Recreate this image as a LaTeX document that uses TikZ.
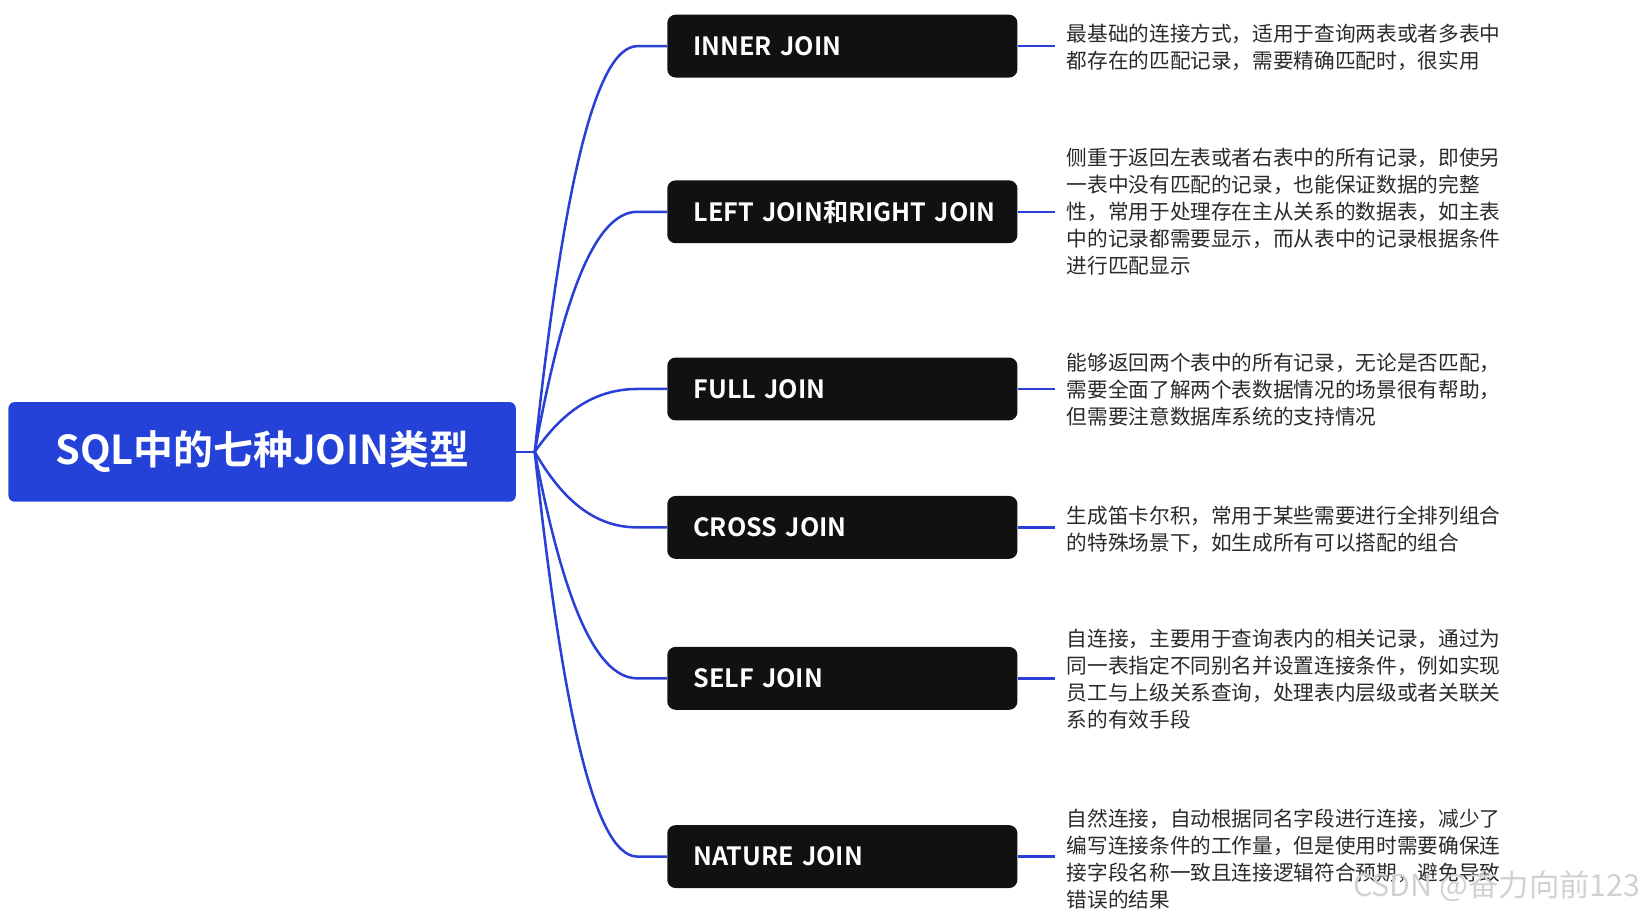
\documentclass[tikz,border=0pt]{standalone}
\usepackage{fontspec}
\setmainfont{Noto Sans CJK SC}[BoldFont={Noto Sans CJK SC Bold}]
\begin{document}
\begin{tikzpicture}[x=0.5pt,y=-0.5pt,
  child/.style={fill=boxblack,rounded corners=4pt,minimum width=167pt,minimum height=30pt,anchor=west,text=white,font=\bfseries\fontsize{12}{14}\selectfont,inner sep=0pt,text width=142pt,align=left},
  desc/.style={anchor=west,text=txt,font=\fontsize{9.85}{12.85}\selectfont,align=left,inner sep=0pt},
  link/.style={draw=linkblue,line width=1.2pt}]
\definecolor{boxblack}{HTML}{111111}
\definecolor{linkblue}{HTML}{2A3FD6}
\definecolor{rootblue}{HTML}{2441D8}
\definecolor{txt}{HTML}{2A2A2A}
\useasboundingbox (0,0) rectangle (1568,870);
\node[fill=rootblue,rounded corners=3pt,minimum width=242pt,minimum height=47.5pt,text=white,font=\bfseries\fontsize{19}{22}\selectfont,inner sep=0pt] (root) at (250,431) {SQL中的七种JOIN类型};
\coordinate (hub) at (510,431);
\draw[link] (root.east) -- (hub);
\foreach \n/\y/\t in {a/44/INNER JOIN, b/202/LEFT JOIN和RIGHT JOIN, c/371/FULL JOIN, d/503/CROSS JOIN, e/647/SELF JOIN, f/817/NATURE JOIN}{
  \node[child] (\n) at (636,\y) {\makebox[142pt][l]{\t}};
  \coordinate (\n j) at (608,\y);
  \coordinate (\n r) at (1006,\y);
  \draw[link] (hub) .. controls (535,{431+0.6*(\y-431)}) and (565,\y) .. (\n j) -- (\n.west);
  \draw[link] (\n.east) -- (\n r);
}
\node[desc] (ta) at (1017,45) {最基础的连接方式，适用于查询两表或者多表中\\都存在的匹配记录，需要精确匹配时，很实用};
\node[desc] (tb) at (1017,202) {侧重于返回左表或者右表中的所有记录，即使另\\一表中没有匹配的记录，也能保证数据的完整\\性，常用于处理存在主从关系的数据表，如主表\\中的记录都需要显示，而从表中的记录根据条件\\进行匹配显示};
\node[desc] (tc) at (1017,372) {能够返回两个表中的所有记录，无论是否匹配，\\需要全面了解两个表数据情况的场景很有帮助，\\但需要注意数据库系统的支持情况};
\node[desc] (td) at (1017,505) {生成笛卡尔积，常用于某些需要进行全排列组合\\的特殊场景下，如生成所有可以搭配的组合};
\node[desc] (te) at (1017,648) {自连接，主要用于查询表内的相关记录，通过为\\同一表指定不同别名并设置连接条件，例如实现\\员工与上级关系查询，处理表内层级或者关联关\\系的有效手段};
\node[desc] (tf) at (1017,819) {自然连接，自动根据同名字段进行连接，减少了\\编写连接条件的工作量，但是使用时需要确保连\\接字段名称一致且连接逻辑符合预期，避免导致\\错误的结果};
\node[anchor=east,text=black!18,font=\fontsize{14.5}{16}\selectfont,inner sep=0pt] (wm) at (1565,845) {CSDN @奋力向前123};
\end{tikzpicture}
\end{document}
